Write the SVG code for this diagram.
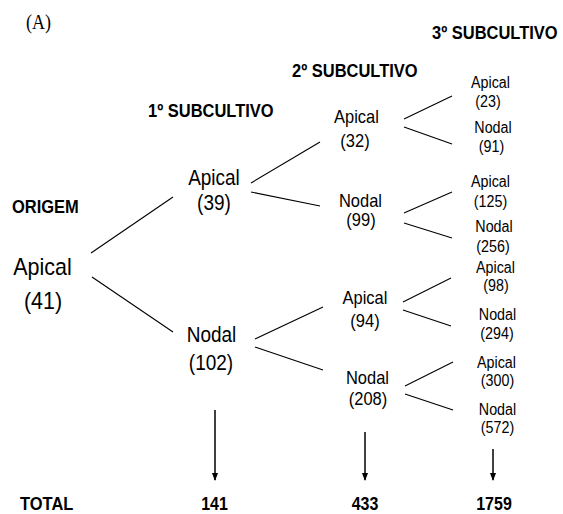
<svg xmlns="http://www.w3.org/2000/svg" width="563" height="514" viewBox="0 0 563 514">
<style>
text{font-family:"Liberation Sans",Arial,sans-serif;fill:#000;text-anchor:middle}
.l0{font-size:21.5px}
.l1{font-size:19px}
.l2{font-size:16.5px}
.l3{font-size:14.3px}
.hd{font-size:16.5px;font-weight:bold;text-anchor:start}
.tot{font-size:16px;font-weight:bold}
.ser{font-family:"Liberation Serif","Times New Roman",serif;font-size:18px;text-anchor:start}
.conn line{stroke:#000;stroke-width:1.1}
.arr line{stroke:#000;stroke-width:1.5}
</style>
<defs>
<marker id="ah" markerWidth="8" markerHeight="8" refX="7" refY="4" orient="auto" markerUnits="userSpaceOnUse">
<path d="M0,1 L8,4 L0,7 Z" fill="#000"/>
</marker>
</defs>
<rect width="563" height="514" fill="#fff"/>
<g id="labels" transform="scale(1,1.12)">
<text class="ser" x="26" y="25.89">(A)</text>
<text class="hd" x="432" y="34.82">3º SUBCULTIVO</text>
<text class="hd" x="292" y="68.75">2º SUBCULTIVO</text>
<text class="hd" x="148" y="104.46">1º SUBCULTIVO</text>
<text class="hd" x="12" y="190.18">ORIGEM</text>
<text class="hd" x="20" y="455.36">TOTAL</text>
<text class="tot" x="214.5" y="455.36">141</text>
<text class="tot" x="365" y="455.36">433</text>
<text class="tot" x="494" y="455.36">1759</text>
</g>
<g id="connectors">
<g class="conn">
<line x1="91" y1="253" x2="173" y2="197"/>
<line x1="92" y1="277" x2="173" y2="332"/>
<line x1="251" y1="183" x2="320" y2="142"/>
<line x1="251" y1="192" x2="320" y2="206"/>
<line x1="255" y1="339" x2="323" y2="307"/>
<line x1="255" y1="347" x2="323" y2="370"/>
<line x1="404" y1="119" x2="452" y2="96"/>
<line x1="404" y1="127" x2="452" y2="144"/>
<line x1="404" y1="213" x2="452" y2="192"/>
<line x1="404" y1="223" x2="452" y2="238"/>
<line x1="403" y1="302" x2="451" y2="278"/>
<line x1="403" y1="310" x2="451" y2="326"/>
<line x1="405" y1="386" x2="453" y2="362"/>
<line x1="405" y1="394" x2="453" y2="410"/>
</g>
<g class="arr">
<line x1="215" y1="410" x2="215" y2="480" marker-end="url(#ah)"/>
<line x1="365" y1="432" x2="365" y2="480" marker-end="url(#ah)"/>
<line x1="493" y1="449" x2="493" y2="480" marker-end="url(#ah)"/>
</g>
</g>
<g id="n-origem" transform="scale(1,1.12)"><text class="l0" x="42.5" y="245.54">Apical</text><text class="l0" x="43" y="275.89">(41)</text></g>
<g id="n-a39" transform="scale(1,1.12)"><text class="l1" x="214" y="165.18">Apical</text><text class="l1" x="214" y="187.5">(39)</text></g>
<g id="n-n102" transform="scale(1,1.12)"><text class="l1" x="211.5" y="305.36">Nodal</text><text class="l1" x="211" y="330.36">(102)</text></g>
<g id="n-a32" transform="scale(1,1.12)"><text class="l2" x="356.5" y="109.82">Apical</text><text class="l2" x="355" y="131.25">(32)</text></g>
<g id="n-n99" transform="scale(1,1.12)"><text class="l2" x="360.5" y="184.82">Nodal</text><text class="l2" x="361" y="201.79">(99)</text></g>
<g id="n-a94" transform="scale(1,1.12)"><text class="l2" x="365" y="271.43">Apical</text><text class="l2" x="365" y="291.96">(94)</text></g>
<g id="n-n208" transform="scale(1,1.12)"><text class="l2" x="367.5" y="342.86">Nodal</text><text class="l2" x="368" y="361.61">(208)</text></g>
<g id="n-a23" transform="scale(1,1.12)"><text class="l3" x="490.5" y="78.57">Apical</text><text class="l3" x="488" y="95.54">(23)</text></g>
<g id="n-n91" transform="scale(1,1.12)"><text class="l3" x="493" y="118.75">Nodal</text><text class="l3" x="491.5" y="135.71">(91)</text></g>
<g id="n-a125" transform="scale(1,1.12)"><text class="l3" x="490.5" y="166.96">Apical</text><text class="l3" x="490.5" y="184.82">(125)</text></g>
<g id="n-n256" transform="scale(1,1.12)"><text class="l3" x="494" y="207.14">Nodal</text><text class="l3" x="493" y="225">(256)</text></g>
<g id="n-a98" transform="scale(1,1.12)"><text class="l3" x="495.5" y="243.75">Apical</text><text class="l3" x="496" y="259.82">(98)</text></g>
<g id="n-n294" transform="scale(1,1.12)"><text class="l3" x="497.5" y="285.71">Nodal</text><text class="l3" x="497" y="302.68">(294)</text></g>
<g id="n-a300" transform="scale(1,1.12)"><text class="l3" x="496.5" y="328.57">Apical</text><text class="l3" x="497.5" y="344.64">(300)</text></g>
<g id="n-n572" transform="scale(1,1.12)"><text class="l3" x="497.5" y="370.54">Nodal</text><text class="l3" x="497.5" y="386.61">(572)</text></g>
</svg>
